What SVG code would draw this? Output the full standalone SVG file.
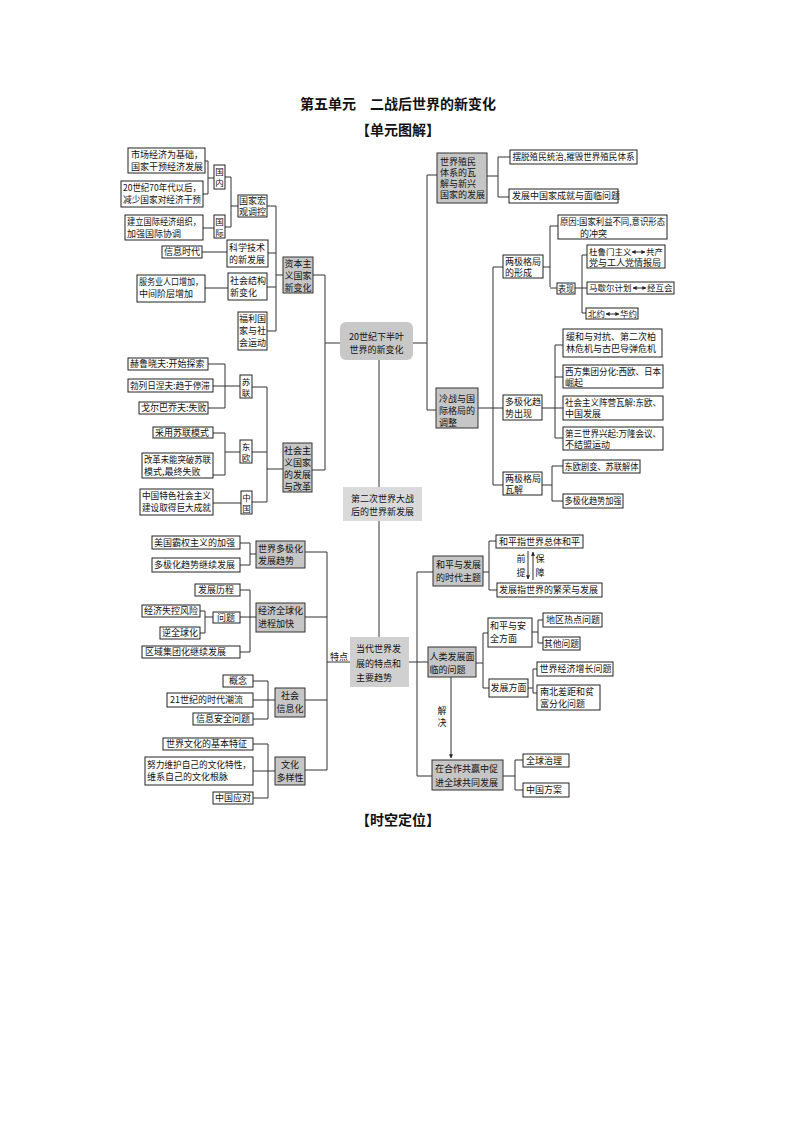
<svg xmlns="http://www.w3.org/2000/svg" width="794" height="1123" viewBox="0 0 794 1123">
<style>
.b{fill:#fff;stroke:#222;stroke-width:1}
.g{fill:#c6c6c6;stroke:#333;stroke-width:1}
.t{font-family:"Noto Sans CJK SC","Noto Sans",sans-serif;font-size:9px;fill:#111}
.s{font-size:8.5px}
.v{font-size:8.5px;text-anchor:middle}
.m{text-anchor:middle}
.h{font-family:"Noto Sans CJK SC","Noto Sans",sans-serif;font-size:14px;font-weight:bold;fill:#111;text-anchor:middle}
.c{fill:none;stroke:#333;stroke-width:1}
</style>
<defs>
<marker id="ah" viewBox="0 0 6 6" refX="5.5" refY="3" markerWidth="4" markerHeight="4" orient="auto-start-reverse"><path d="M0,0 L6,3 L0,6 z" fill="#222"/></marker>
</defs>
<rect width="794" height="1123" fill="#fff"/>
<text class="h" x="398" y="109">第五单元　二战后世界的新变化</text>
<text class="h" x="398" y="135">【单元图解】</text>
<text class="h" x="398" y="825">【时空定位】</text>

<g id="connectors">
<path class="c" d="M205,161 H208 V194 H203 M208,178 H214"/>
<path class="c" d="M203,228 H214"/>
<path class="c" d="M225,177 H231 V227 H225 M231,206 H238"/>
<path class="c" d="M202,252 H227"/>
<path class="c" d="M205,288 H228"/>
<path class="c" d="M267,206 H276 V331 H267 M268,253 H276 M267,287 H276 M276,275 H283"/>
<path class="c" d="M313,275 H325 V470 H312 M325,343 H340"/>
<path class="c" d="M208,364 H225 V408 H208 M213,386 H240"/>
<path class="c" d="M252,387 H267 V502 H252 M267,469 H283"/>
<path class="c" d="M213,433 H225 V475 H213 M225,452 H240 M252,452 H267"/>
<path class="c" d="M213,503 H241"/>
<path class="c" d="M379,360 V487 M379,521 V637"/>
<path class="c" d="M413,343 H427 M427,175 V410 M427,175 H437 M427,410 H436"/>
<path class="c" d="M487,176 H498 M498,157 V197 M498,157 H510 M498,197 H509"/>
<path class="c" d="M478,408 H503 M493,267 V485 M493,267 H503 M493,485 H503"/>
<path class="c" d="M543,267 H550 M550,226 V287 M550,226 H558 M550,288 H557"/>
<path class="c" d="M575,288 H587 M582,255 V313 M582,255 H587 M582,313 H586"/>
<path class="c" d="M542,408 H563 M555,345 V438 M555,345 H563 M555,377 H563 M555,438 H563"/>
<path class="c" d="M542,485 H552 M552,466 V501 M552,466 H563 M552,501 H563"/>
<path class="c" d="M409,662 H428 M417,572 V776 M417,572 H433 M417,776 H432"/>
<path class="c" d="M483,572 H489 M489,541 V590 M489,541 H496 M489,590 H497"/>
<path class="c" d="M528,551 V579" marker-end="url(#ah)"/>
<path class="c" d="M533,580 V552" marker-end="url(#ah)"/>
<path class="c" d="M476,663 H483 M483,633 V688 M483,633 H488 M483,688 H489"/>
<path class="c" d="M532,632 H538 M538,620 V643 M538,620 H543 M538,643 H543"/>
<path class="c" d="M528,688 H533 M533,669 V693 M533,669 H537 M533,693 H537"/>
<path class="c" d="M451,677 V758" marker-end="url(#ah)"/>
<path class="c" d="M503,776 H515 M515,760 V790 M515,760 H523 M515,790 H523"/>
<path class="c" d="M240,543 H250 V565 H240 M250,554 H256 M305,552 H327"/>
<path class="c" d="M200,611 H205 V633 H200 M205,617 H213"/>
<path class="c" d="M240,590 H250 V652 H240 M240,617 H256 M305,617 H327"/>
<path class="c" d="M253,681 H268 V719 H253 M253,700 H275 M305,700 H327"/>
<path class="c" d="M253,744 H268 V798 H253 M253,771 H275 M305,770 H327"/>
<path class="c" d="M327,552 V770 M327,662 H350"/>
<text class="t" x="330" y="660">特点</text>
<text class="t m" x="521" y="562">前</text>
<text class="t m" x="521" y="576">提</text>
<text class="t m" x="540" y="562">保</text>
<text class="t m" x="540" y="576">障</text>
<text class="t m" x="442" y="714">解</text>
<text class="t m" x="442" y="726">决</text>
</g>

<g id="n1"><rect class="b" x="128" y="148" width="77" height="25"/><text class="t" x="131" y="158">市场经济为基础，</text><text class="t" x="131" y="170">国家干预经济发展</text></g>
<g id="n2"><rect class="b" x="121" y="181" width="82" height="26"/><text class="t" x="123" y="191" textLength="78" lengthAdjust="spacingAndGlyphs">20世纪70年代以后，</text><text class="t" x="123" y="203" textLength="78" lengthAdjust="spacingAndGlyphs">减少国家对经济干预</text></g>
<g id="n3"><rect class="b" x="214" y="165" width="11" height="24"/><text class="t v" x="219.5" y="175">国</text><text class="t v" x="219.5" y="186">内</text></g>
<g id="n4"><rect class="b" x="214" y="215" width="11" height="23"/><text class="t v" x="219.5" y="225">国</text><text class="t v" x="219.5" y="236">际</text></g>
<g id="n5"><rect class="b" x="125" y="215" width="78" height="25"/><text class="t" x="127" y="225" textLength="74" lengthAdjust="spacingAndGlyphs">建立国际经济组织，</text><text class="t" x="127" y="237">加强国际协调</text></g>
<g id="n6"><rect class="b" x="238" y="195" width="29" height="22"/><text class="t" x="239" y="204">国家宏</text><text class="t" x="239" y="215">观调控</text></g>
<g id="n7"><rect class="b" x="162" y="246" width="40" height="12"/><text class="t" x="164" y="255">信息时代</text></g>
<g id="n8"><rect class="b" x="227" y="240" width="41" height="27"/><text class="t" x="229" y="251">科学技术</text><text class="t" x="229" y="263">的新发展</text></g>
<g id="n9"><rect class="b" x="137" y="275" width="68" height="27"/><text class="t" x="139" y="285" textLength="64" lengthAdjust="spacingAndGlyphs">服务业人口增加，</text><text class="t" x="139" y="297">中间阶层增加</text></g>
<g id="n10"><rect class="b" x="228" y="273" width="39" height="27"/><text class="t" x="230" y="284">社会结构</text><text class="t" x="230" y="296">新变化</text></g>
<g id="n11"><rect class="b" x="238" y="312" width="29" height="38"/><text class="t" x="239" y="322">福利国</text><text class="t" x="239" y="334">家与社</text><text class="t" x="239" y="346">会运动</text></g>
<g id="n12"><rect class="g" x="283" y="257" width="30" height="36"/><text class="t" x="284.5" y="267">资本主</text><text class="t" x="284.5" y="279">义国家</text><text class="t" x="284.5" y="291">新变化</text></g>

<g id="n13"><rect class="b" x="128" y="358" width="80" height="12"/><text class="t" x="130" y="367">赫鲁晓夫:开始探索</text></g>
<g id="n14"><rect class="b" x="128" y="379" width="85" height="13"/><text class="t" x="130" y="389" textLength="80" lengthAdjust="spacingAndGlyphs">勃列日涅夫:趋于停滞</text></g>
<g id="n15"><rect class="b" x="139" y="402" width="69" height="12"/><text class="t" x="141" y="411">戈尔巴乔夫:失败</text></g>
<g id="n16"><rect class="b" x="240" y="375" width="12" height="23"/><text class="t v" x="246" y="385">苏</text><text class="t v" x="246" y="396">联</text></g>
<g id="n17"><rect class="b" x="153" y="427" width="60" height="11"/><text class="t" x="155" y="436">采用苏联模式</text></g>
<g id="n18"><rect class="b" x="142" y="453" width="71" height="25"/><text class="t" x="144" y="463" textLength="67" lengthAdjust="spacingAndGlyphs">改革未能突破苏联</text><text class="t" x="144" y="475">模式,最终失败</text></g>
<g id="n19"><rect class="b" x="240" y="440" width="12" height="23"/><text class="t v" x="246" y="450">东</text><text class="t v" x="246" y="461">欧</text></g>
<g id="n20"><rect class="b" x="140" y="489" width="73" height="26"/><text class="t" x="142" y="499" textLength="69" lengthAdjust="spacingAndGlyphs">中国特色社会主义</text><text class="t" x="142" y="511" textLength="69" lengthAdjust="spacingAndGlyphs">建设取得巨大成就</text></g>
<g id="n21"><rect class="b" x="241" y="491" width="11" height="23"/><text class="t v" x="246.5" y="501">中</text><text class="t v" x="246.5" y="512">国</text></g>
<g id="n22"><rect class="g" x="283" y="443" width="29" height="49"/><text class="t" x="284" y="454">社会主</text><text class="t" x="284" y="466">义国家</text><text class="t" x="284" y="478">的发展</text><text class="t" x="284" y="490">与改革</text></g>

<g id="n23"><rect x="340" y="322" width="73" height="38" rx="6" fill="#c8c8c8"/><text class="t m" x="376.5" y="340">20世纪下半叶</text><text class="t m" x="376.5" y="353">世界的新变化</text></g>
<g id="n24"><rect x="343" y="487" width="79" height="34" fill="#dadada"/><text class="t m" x="382.5" y="502">第二次世界大战</text><text class="t m" x="382.5" y="515">后的世界新发展</text></g>
<g id="n25"><rect x="350" y="637" width="59" height="50" fill="#d0d0d0"/><text class="t" x="356" y="652">当代世界发</text><text class="t" x="356" y="667">展的特点和</text><text class="t" x="356" y="681">主要趋势</text></g>

<g id="n26"><rect class="g" x="437" y="153" width="50" height="50"/><text class="t" x="440" y="165">世界殖民</text><text class="t" x="440" y="176">体系的瓦</text><text class="t" x="440" y="187">解与新兴</text><text class="t" x="440" y="198">国家的发展</text></g>
<g id="n27"><rect class="b" x="510" y="150" width="127" height="14"/><text class="t" x="512.5" y="160" textLength="122" lengthAdjust="spacingAndGlyphs">摆脱殖民统治,摧毁世界殖民体系</text></g>
<g id="n28"><rect class="b" x="509" y="189" width="109" height="14"/><text class="t" x="512" y="199">发展中国家成就与面临问题</text></g>
<g id="n29"><rect class="g" x="436" y="388" width="42" height="40"/><text class="t" x="439" y="402">冷战与国</text><text class="t" x="439" y="414">际格局的</text><text class="t" x="439" y="426">调整</text></g>
<g id="n30"><rect class="b" x="503" y="255" width="40" height="23"/><text class="t" x="505" y="265">两极格局</text><text class="t" x="505" y="276">的形成</text></g>
<g id="n31"><rect class="b" x="558" y="215" width="109" height="24"/><text class="t" x="560" y="225" textLength="105" lengthAdjust="spacingAndGlyphs">原因:国家利益不同,意识形态</text><text class="t" x="580" y="236.5">的冲突</text></g>
<g id="n32"><rect class="b" x="557" y="283" width="18" height="11"/><text class="t" x="558" y="292" textLength="16" lengthAdjust="spacingAndGlyphs">表现</text></g>
<g id="n33"><rect class="b" x="587" y="245" width="78" height="23"/><text class="t s" x="589" y="255">杜鲁门主义</text><line class="c" x1="632" y1="252" x2="645" y2="252" marker-start="url(#ah)" marker-end="url(#ah)"/><text class="t s" x="646" y="255">共产</text><text class="t" x="589" y="266">党与工人党情报局</text></g>
<g id="n34"><rect class="b" x="587" y="282" width="87" height="12"/><text class="t s" x="589" y="291">马歇尔计划</text><line class="c" x1="633" y1="288" x2="646" y2="288" marker-start="url(#ah)" marker-end="url(#ah)"/><text class="t s" x="647" y="291">经互会</text></g>
<g id="n35"><rect class="b" x="586" y="308" width="52" height="11"/><text class="t s" x="588" y="317">北约</text><line class="c" x1="606" y1="314" x2="619" y2="314" marker-start="url(#ah)" marker-end="url(#ah)"/><text class="t s" x="620" y="317">华约</text></g>
<g id="n36"><rect class="b" x="503" y="395" width="39" height="25"/><text class="t" x="505" y="405">多极化趋</text><text class="t" x="505" y="417">势出现</text></g>
<g id="n37"><rect class="b" x="563" y="329" width="99" height="28"/><text class="t" x="566" y="340">缓和与对抗、第二次柏</text><text class="t" x="566" y="352">林危机与古巴导弹危机</text></g>
<g id="n38"><rect class="b" x="563" y="365" width="100" height="23"/><text class="t" x="565" y="375" textLength="96" lengthAdjust="spacingAndGlyphs">西方集团分化:西欧、日本</text><text class="t" x="565" y="386">崛起</text></g>
<g id="n39"><rect class="b" x="563" y="396" width="100" height="24"/><text class="t" x="565" y="406" textLength="96" lengthAdjust="spacingAndGlyphs">社会主义阵营瓦解:东欧、</text><text class="t" x="565" y="417">中国发展</text></g>
<g id="n40"><rect class="b" x="563" y="427" width="100" height="23"/><text class="t" x="565" y="437" textLength="96" lengthAdjust="spacingAndGlyphs">第三世界兴起:万隆会议、</text><text class="t" x="565" y="448">不结盟运动</text></g>
<g id="n41"><rect class="b" x="503" y="472" width="39" height="23"/><text class="t" x="505" y="482">两极格局</text><text class="t" x="505" y="493">瓦解</text></g>
<g id="n42"><rect class="b" x="563" y="460" width="77" height="13"/><text class="t" x="564.5" y="470" textLength="74" lengthAdjust="spacingAndGlyphs">东欧剧变、苏联解体</text></g>
<g id="n43"><rect class="b" x="563" y="494" width="60" height="14"/><text class="t" x="564.5" y="504" textLength="57" lengthAdjust="spacingAndGlyphs">多极化趋势加强</text></g>

<g id="n44"><rect class="g" x="433" y="556" width="50" height="30"/><text class="t" x="436" y="568">和平与发展</text><text class="t" x="436" y="581">的时代主题</text></g>
<g id="n45"><rect class="b" x="496" y="535" width="87" height="13"/><text class="t" x="499" y="545">和平指世界总体和平</text></g>
<g id="n46"><rect class="b" x="497" y="583" width="105" height="14"/><text class="t" x="499" y="593">发展指世界的繁荣与发展</text></g>
<g id="n47"><rect class="g" x="428" y="647" width="48" height="30"/><text class="t" x="429.5" y="660">人类发展面</text><text class="t" x="429.5" y="673">临的问题</text></g>
<g id="n48"><rect class="b" x="488" y="618" width="44" height="29"/><text class="t" x="490" y="629">和平与安</text><text class="t" x="490" y="642">全方面</text></g>
<g id="n49"><rect class="b" x="489" y="679" width="39" height="18"/><text class="t" x="490.5" y="691">发展方面</text></g>
<g id="n50"><rect class="b" x="543" y="613" width="59" height="14"/><text class="t" x="546" y="623">地区热点问题</text></g>
<g id="n51"><rect class="b" x="543" y="637" width="37" height="13"/><text class="t" x="544" y="647" textLength="35" lengthAdjust="spacingAndGlyphs">其他问题</text></g>
<g id="n52"><rect class="b" x="537" y="662" width="76" height="14"/><text class="t" x="539.5" y="672">世界经济增长问题</text></g>
<g id="n53"><rect class="b" x="537" y="685" width="63" height="25"/><text class="t" x="540" y="695">南北差距和贫</text><text class="t" x="540" y="707">富分化问题</text></g>
<g id="n54"><rect class="g" x="432" y="760" width="71" height="30"/><text class="t" x="435" y="772">在合作共赢中促</text><text class="t" x="435" y="786">进全球共同发展</text></g>
<g id="n55"><rect class="b" x="523" y="754" width="46" height="13"/><text class="t" x="526" y="764">全球治理</text></g>
<g id="n56"><rect class="b" x="523" y="783" width="46" height="14"/><text class="t" x="526" y="793">中国方案</text></g>

<g id="n57"><rect class="g" x="256" y="541" width="49" height="27"/><text class="t" x="258" y="552">世界多极化</text><text class="t" x="258" y="564">发展趋势</text></g>
<g id="n58"><rect class="b" x="152" y="536" width="88" height="13"/><text class="t" x="154" y="546">美国霸权主义的加强</text></g>
<g id="n59"><rect class="b" x="152" y="558" width="88" height="14"/><text class="t" x="154" y="568">多极化趋势继续发展</text></g>
<g id="n60"><rect class="g" x="256" y="603" width="49" height="29"/><text class="t" x="258" y="614">经济全球化</text><text class="t" x="258" y="627">进程加快</text></g>
<g id="n61"><rect class="b" x="195" y="584" width="45" height="12"/><text class="t" x="198" y="593">发展历程</text></g>
<g id="n62"><rect class="b" x="213" y="612" width="27" height="11"/><text class="t" x="217" y="621">问题</text></g>
<g id="n63"><rect class="b" x="142" y="605" width="58" height="12"/><text class="t" x="144" y="614">经济失控风险</text></g>
<g id="n64"><rect class="b" x="160" y="627" width="40" height="12"/><text class="t" x="162" y="636">逆全球化</text></g>
<g id="n65"><rect class="b" x="142" y="646" width="98" height="12"/><text class="t" x="145" y="655">区域集团化继续发展</text></g>
<g id="n66"><rect class="g" x="275" y="688" width="30" height="29"/><text class="t m" x="290" y="699">社会</text><text class="t m" x="290" y="712">信息化</text></g>
<g id="n67"><rect class="b" x="223" y="675" width="30" height="12"/><text class="t" x="229" y="684">概念</text></g>
<g id="n68"><rect class="b" x="167" y="693" width="86" height="14"/><text class="t" x="170" y="703">21世纪的时代潮流</text></g>
<g id="n69"><rect class="b" x="193" y="713" width="60" height="12"/><text class="t" x="196" y="722">信息安全问题</text></g>
<g id="n70"><rect class="g" x="275" y="757" width="30" height="28"/><text class="t m" x="290" y="768">文化</text><text class="t m" x="290" y="781">多样性</text></g>
<g id="n71"><rect class="b" x="163" y="738" width="90" height="12"/><text class="t" x="166" y="747">世界文化的基本特征</text></g>
<g id="n72"><rect class="b" x="145" y="757" width="108" height="28"/><text class="t" x="147" y="768" textLength="104" lengthAdjust="spacingAndGlyphs">努力维护自己的文化特性，</text><text class="t" x="147" y="780">维系自己的文化根脉</text></g>
<g id="n73"><rect class="b" x="213" y="792" width="40" height="12"/><text class="t" x="215" y="801">中国应对</text></g>
</svg>
